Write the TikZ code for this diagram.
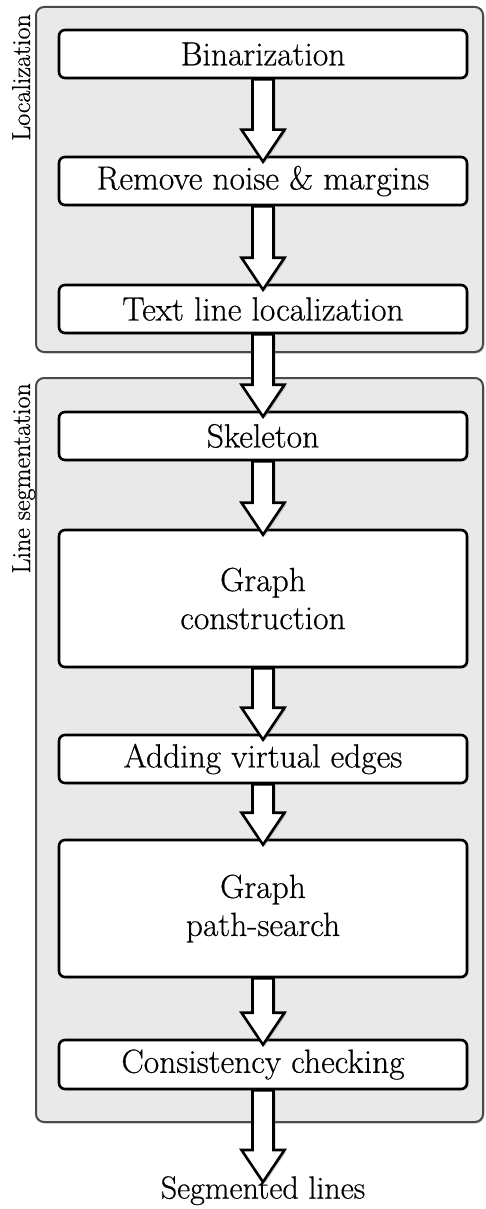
\documentclass[tikz,border=0pt]{standalone}
\usepackage{fontspec}
\usetikzlibrary{calc,shadows}

\newfontfamily\stagefont{Latin Modern Roman}[FakeBold=0.5]

\definecolor{groupfill}{HTML}{E9E9E9}
\definecolor{groupline}{HTML}{4A4A4A}

\tikzset{
  group/.style={draw=groupline, line width=2pt, fill=groupfill, rounded corners=8pt,
    drop shadow={shadow xshift=1.5pt, shadow yshift=-1.5pt, opacity=0.35}},
  stage/.style={draw=black, line width=2.6pt, fill=white, rounded corners=6pt,
    minimum width=408pt, inner sep=0pt, align=center,
    font=\stagefont\fontsize{33.5}{38}\selectfont,
    drop shadow={shadow xshift=1.5pt, shadow yshift=-1.5pt, opacity=0.3}},
  grouplabel/.style={rotate=90, anchor=base east, inner sep=0pt,
    font=\stagefont\fontsize{26}{30}\selectfont},
  fatarrow/.style={draw=black, line width=2.6pt, fill=white, line join=miter,
    drop shadow={shadow xshift=2pt, shadow yshift=-1.5pt, opacity=0.35}},
}

% block arrow from the bottom of one node to the top of the next
\newcommand\blockarrow[2]{%
  \path[fatarrow] let \p1=(#1.south), \p2=(#2.north) in
    (\x1-10.5pt,\y1) -- (\x1-10.5pt,\y2+26pt) -- (\x1-21.5pt,\y2+26pt)
    -- (\x1,\y2-6pt) -- (\x1+21.5pt,\y2+26pt) -- (\x1+10.5pt,\y2+26pt)
    -- (\x1+10.5pt,\y1) -- cycle;}

\begin{document}
\begin{tikzpicture}[x=1pt,y=-1pt]
  \useasboundingbox (0,0) rectangle (485,1209);

  % processing groups
  \path[group] (36,7) rectangle (483,352);
  \path[group] (36,378) rectangle (483,1122);
  \node[grouplabel] (lab1) at (30,14) {Localization};
  \node[grouplabel] (lab2) at (30,383) {Line segmentation};

  % stages
  \node[stage, minimum height=48pt] (bin)  at (263,54)    {Binarization};
  \node[stage, minimum height=48pt] (rem)  at (263,181)   {Remove noise \& margins};
  \node[stage, minimum height=48pt] (tll)  at (263,309)   {Text line localization};
  \node[stage, minimum height=48pt] (skel) at (263,436)   {Skeleton};
  \node[stage, minimum height=137pt] (gc)  at (263,598.5) {Graph\\construction};
  \node[stage, minimum height=48pt] (ave)  at (263,759)   {Adding virtual edges};
  \node[stage, minimum height=137pt] (gps) at (263,908.5) {Graph\\path-search};
  \node[stage, minimum height=49pt] (cc)   at (263,1064.5){Consistency checking};
  \node[inner sep=0pt, font=\stagefont\fontsize{32}{36}\selectfont, anchor=north]
    (out) at (263,1176) {Segmented lines};

  % flow
  \blockarrow{bin}{rem}
  \blockarrow{rem}{tll}
  \blockarrow{tll}{skel}
  \blockarrow{skel}{gc}
  \blockarrow{gc}{ave}
  \blockarrow{ave}{gps}
  \blockarrow{gps}{cc}
  \blockarrow{cc}{out}
\end{tikzpicture}
\end{document}
